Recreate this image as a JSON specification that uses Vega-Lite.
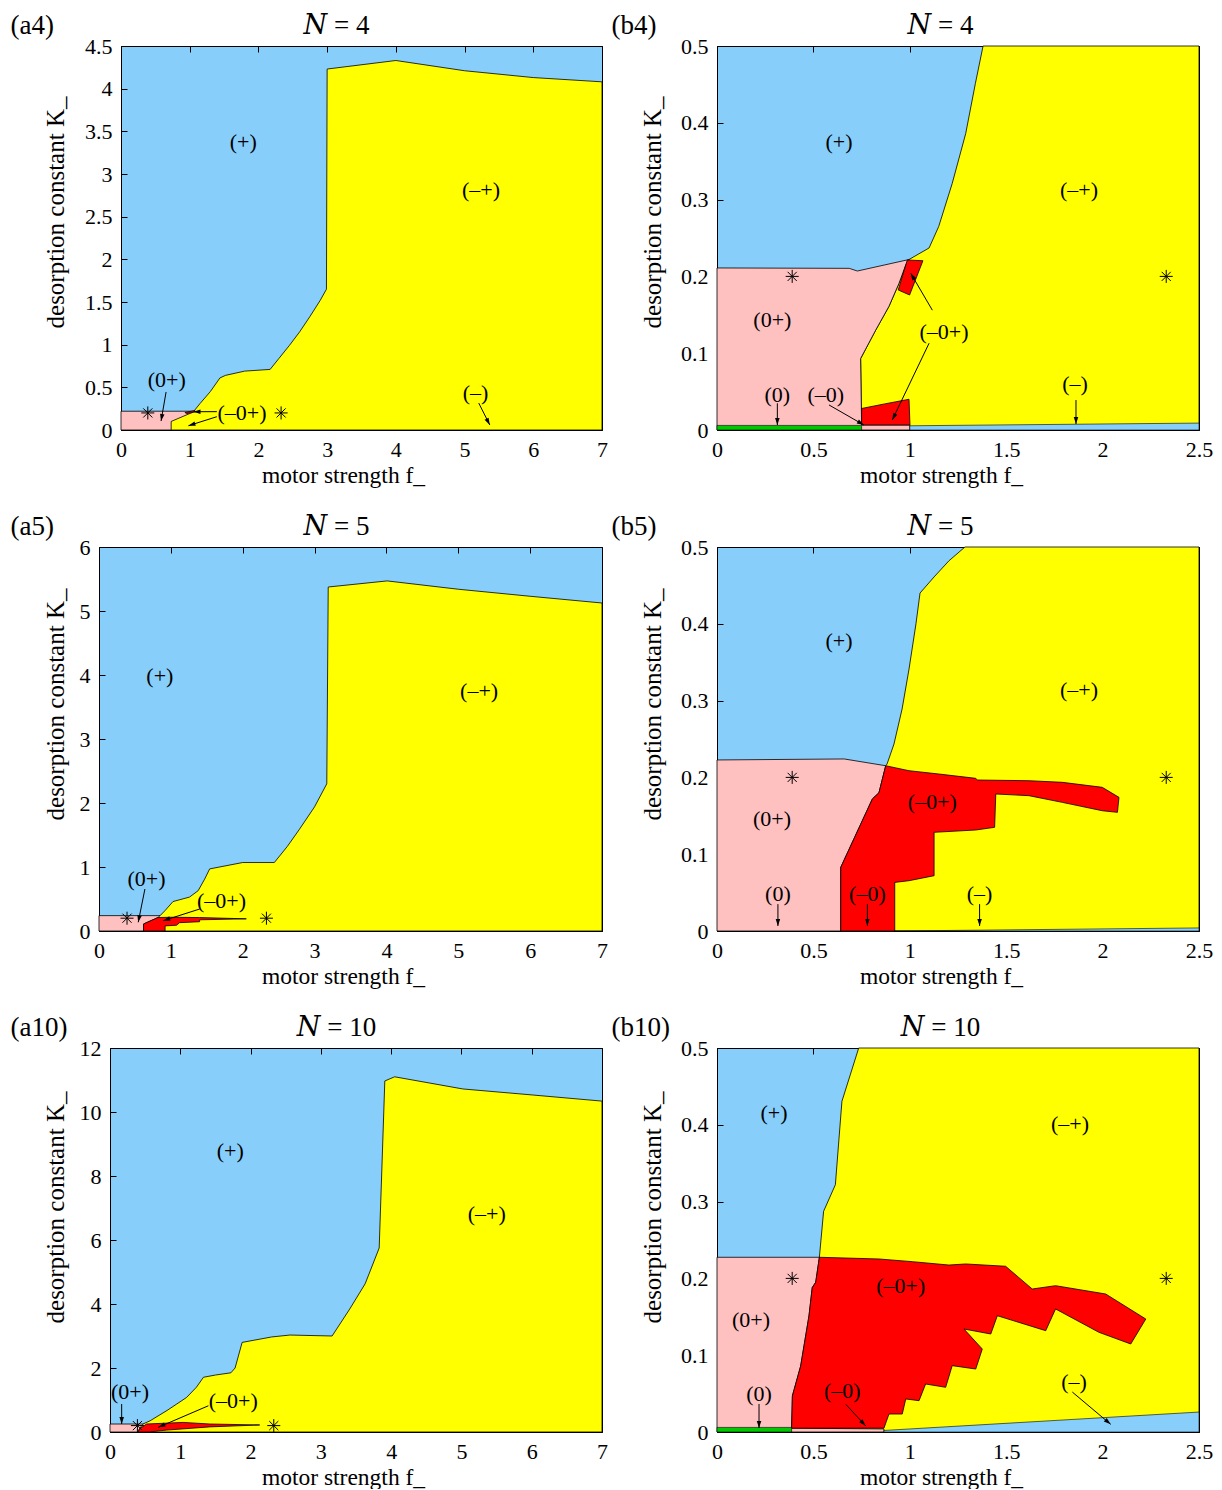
{
"$schema":"https://vega.github.io/schema/vega-lite/v6.json",
"background":"white",
"padding":{"left":0,"top":11,"right":0,"bottom":0},
"datasets":{
"poly":[
{"p":"a4","r":"y","g":"a4y","i":0,"x":0.73,"y":0},{"p":"a4","r":"y","g":"a4y","i":1,"x":0.73,"y":0.1},{"p":"a4","r":"y","g":"a4y","i":2,"x":1.05,"y":0.21},{"p":"a4","r":"y","g":"a4y","i":3,"x":1.15,"y":0.31},{"p":"a4","r":"y","g":"a4y","i":4,"x":1.3,"y":0.45},{"p":"a4","r":"y","g":"a4y","i":5,"x":1.44,"y":0.61},{"p":"a4","r":"y","g":"a4y","i":6,"x":1.52,"y":0.64},{"p":"a4","r":"y","g":"a4y","i":7,"x":1.8,"y":0.69},{"p":"a4","r":"y","g":"a4y","i":8,"x":2.17,"y":0.71},{"p":"a4","r":"y","g":"a4y","i":9,"x":2.3,"y":0.84},{"p":"a4","r":"y","g":"a4y","i":10,"x":2.45,"y":0.99},{"p":"a4","r":"y","g":"a4y","i":11,"x":2.6,"y":1.15},{"p":"a4","r":"y","g":"a4y","i":12,"x":2.75,"y":1.33},{"p":"a4","r":"y","g":"a4y","i":13,"x":2.9,"y":1.52},{"p":"a4","r":"y","g":"a4y","i":14,"x":2.99,"y":1.65},{"p":"a4","r":"y","g":"a4y","i":15,"x":3.0,"y":4.23},{"p":"a4","r":"y","g":"a4y","i":16,"x":4.0,"y":4.33},{"p":"a4","r":"y","g":"a4y","i":17,"x":5.0,"y":4.21},{"p":"a4","r":"y","g":"a4y","i":18,"x":6.0,"y":4.13},{"p":"a4","r":"y","g":"a4y","i":19,"x":7,"y":4.08},{"p":"a4","r":"y","g":"a4y","i":20,"x":7,"y":0},{"p":"a4","r":"y","g":"a4y","i":21,"x":0.73,"y":0},
{"p":"a4","r":"p","g":"a4p","i":0,"x":0,"y":0},{"p":"a4","r":"p","g":"a4p","i":1,"x":0,"y":0.22},{"p":"a4","r":"p","g":"a4p","i":2,"x":1.05,"y":0.22},{"p":"a4","r":"p","g":"a4p","i":3,"x":1.05,"y":0},{"p":"a4","r":"p","g":"a4p","i":4,"x":0,"y":0},
{"p":"a4","r":"r","g":"a4r","i":0,"x":0.93,"y":0.205},{"p":"a4","r":"r","g":"a4r","i":1,"x":1.07,"y":0.228},{"p":"a4","r":"r","g":"a4r","i":2,"x":1.09,"y":0.215},{"p":"a4","r":"r","g":"a4r","i":3,"x":0.96,"y":0.192},{"p":"a4","r":"r","g":"a4r","i":4,"x":0.93,"y":0.205},

{"p":"b4","r":"y","g":"b4y","i":0,"x":0.75,"y":0},{"p":"b4","r":"y","g":"b4y","i":1,"x":0.745,"y":0.093},{"p":"b4","r":"y","g":"b4y","i":2,"x":0.823,"y":0.13},{"p":"b4","r":"y","g":"b4y","i":3,"x":0.892,"y":0.161},{"p":"b4","r":"y","g":"b4y","i":4,"x":0.944,"y":0.191},{"p":"b4","r":"y","g":"b4y","i":5,"x":0.979,"y":0.215},{"p":"b4","r":"y","g":"b4y","i":6,"x":0.996,"y":0.222},{"p":"b4","r":"y","g":"b4y","i":7,"x":1.1,"y":0.237},{"p":"b4","r":"y","g":"b4y","i":8,"x":1.15,"y":0.265},{"p":"b4","r":"y","g":"b4y","i":9,"x":1.22,"y":0.321},{"p":"b4","r":"y","g":"b4y","i":10,"x":1.29,"y":0.386},{"p":"b4","r":"y","g":"b4y","i":11,"x":1.34,"y":0.451},{"p":"b4","r":"y","g":"b4y","i":12,"x":1.38,"y":0.5},{"p":"b4","r":"y","g":"b4y","i":13,"x":2.5,"y":0.5},{"p":"b4","r":"y","g":"b4y","i":14,"x":2.5,"y":0},{"p":"b4","r":"y","g":"b4y","i":15,"x":0.75,"y":0},
{"p":"b4","r":"p","g":"b4p","i":0,"x":0,"y":0},{"p":"b4","r":"p","g":"b4p","i":1,"x":0,"y":0.211},{"p":"b4","r":"p","g":"b4p","i":2,"x":0.686,"y":0.2105},{"p":"b4","r":"p","g":"b4p","i":3,"x":0.728,"y":0.207},{"p":"b4","r":"p","g":"b4p","i":4,"x":0.996,"y":0.222},{"p":"b4","r":"p","g":"b4p","i":5,"x":0.979,"y":0.215},{"p":"b4","r":"p","g":"b4p","i":6,"x":0.944,"y":0.191},{"p":"b4","r":"p","g":"b4p","i":7,"x":0.892,"y":0.161},{"p":"b4","r":"p","g":"b4p","i":8,"x":0.823,"y":0.13},{"p":"b4","r":"p","g":"b4p","i":9,"x":0.745,"y":0.093},{"p":"b4","r":"p","g":"b4p","i":10,"x":0.75,"y":0.0065},{"p":"b4","r":"p","g":"b4p","i":11,"x":1.0,"y":0.0065},{"p":"b4","r":"p","g":"b4p","i":12,"x":1.0,"y":0},{"p":"b4","r":"p","g":"b4p","i":13,"x":0,"y":0},
{"p":"b4","r":"r","g":"b4r1","i":0,"x":0.987,"y":0.2214},{"p":"b4","r":"r","g":"b4r1","i":1,"x":1.068,"y":0.2204},{"p":"b4","r":"r","g":"b4r1","i":2,"x":0.999,"y":0.1758},{"p":"b4","r":"r","g":"b4r1","i":3,"x":0.94,"y":0.1823},{"p":"b4","r":"r","g":"b4r1","i":4,"x":0.987,"y":0.2214},
{"p":"b4","r":"r","g":"b4r2","i":0,"x":0.75,"y":0.028},{"p":"b4","r":"r","g":"b4r2","i":1,"x":0.87,"y":0.034},{"p":"b4","r":"r","g":"b4r2","i":2,"x":0.996,"y":0.04},{"p":"b4","r":"r","g":"b4r2","i":3,"x":1.001,"y":0.0065},{"p":"b4","r":"r","g":"b4r2","i":4,"x":0.75,"y":0.0065},{"p":"b4","r":"r","g":"b4r2","i":5,"x":0.75,"y":0.028},
{"p":"b4","r":"g","g":"b4g","i":0,"x":0,"y":0},{"p":"b4","r":"g","g":"b4g","i":1,"x":0,"y":0.006},{"p":"b4","r":"g","g":"b4g","i":2,"x":0.75,"y":0.006},{"p":"b4","r":"g","g":"b4g","i":3,"x":0.75,"y":0},{"p":"b4","r":"g","g":"b4g","i":4,"x":0,"y":0},
{"p":"b4","r":"b","g":"b4b","i":0,"x":1.0,"y":0},{"p":"b4","r":"b","g":"b4b","i":1,"x":1.0,"y":0.0055},{"p":"b4","r":"b","g":"b4b","i":2,"x":2.5,"y":0.009},{"p":"b4","r":"b","g":"b4b","i":3,"x":2.5,"y":0},{"p":"b4","r":"b","g":"b4b","i":4,"x":1.0,"y":0},

{"p":"a5","r":"y","g":"a5y","i":0,"x":0.62,"y":0},{"p":"a5","r":"y","g":"a5y","i":1,"x":0.62,"y":0.11},{"p":"a5","r":"y","g":"a5y","i":2,"x":0.82,"y":0.21},{"p":"a5","r":"y","g":"a5y","i":3,"x":0.85,"y":0.24},{"p":"a5","r":"y","g":"a5y","i":4,"x":0.92,"y":0.32},{"p":"a5","r":"y","g":"a5y","i":5,"x":1.03,"y":0.46},{"p":"a5","r":"y","g":"a5y","i":6,"x":1.26,"y":0.53},{"p":"a5","r":"y","g":"a5y","i":7,"x":1.38,"y":0.63},{"p":"a5","r":"y","g":"a5y","i":8,"x":1.47,"y":0.81},{"p":"a5","r":"y","g":"a5y","i":9,"x":1.54,"y":0.97},{"p":"a5","r":"y","g":"a5y","i":10,"x":2.0,"y":1.07},{"p":"a5","r":"y","g":"a5y","i":11,"x":2.44,"y":1.07},{"p":"a5","r":"y","g":"a5y","i":12,"x":2.62,"y":1.32},{"p":"a5","r":"y","g":"a5y","i":13,"x":2.79,"y":1.59},{"p":"a5","r":"y","g":"a5y","i":14,"x":3.0,"y":1.94},{"p":"a5","r":"y","g":"a5y","i":15,"x":3.17,"y":2.3},{"p":"a5","r":"y","g":"a5y","i":16,"x":3.19,"y":5.375},{"p":"a5","r":"y","g":"a5y","i":17,"x":4.01,"y":5.47},{"p":"a5","r":"y","g":"a5y","i":18,"x":5.0,"y":5.34},{"p":"a5","r":"y","g":"a5y","i":19,"x":6.0,"y":5.23},{"p":"a5","r":"y","g":"a5y","i":20,"x":7,"y":5.125},{"p":"a5","r":"y","g":"a5y","i":21,"x":7,"y":0},{"p":"a5","r":"y","g":"a5y","i":22,"x":0.62,"y":0},
{"p":"a5","r":"p","g":"a5p","i":0,"x":0,"y":0},{"p":"a5","r":"p","g":"a5p","i":1,"x":0,"y":0.24},{"p":"a5","r":"p","g":"a5p","i":2,"x":0.86,"y":0.24},{"p":"a5","r":"p","g":"a5p","i":3,"x":0.86,"y":0},{"p":"a5","r":"p","g":"a5p","i":4,"x":0,"y":0},
{"p":"a5","r":"r","g":"a5r","i":0,"x":0.62,"y":0},{"p":"a5","r":"r","g":"a5r","i":1,"x":0.62,"y":0.11},{"p":"a5","r":"r","g":"a5r","i":2,"x":0.82,"y":0.21},{"p":"a5","r":"r","g":"a5r","i":3,"x":1.0,"y":0.215},{"p":"a5","r":"r","g":"a5r","i":4,"x":1.4,"y":0.21},{"p":"a5","r":"r","g":"a5r","i":5,"x":2.05,"y":0.19},{"p":"a5","r":"r","g":"a5r","i":6,"x":1.4,"y":0.175},{"p":"a5","r":"r","g":"a5r","i":7,"x":1.4,"y":0.145},{"p":"a5","r":"r","g":"a5r","i":8,"x":1.12,"y":0.13},{"p":"a5","r":"r","g":"a5r","i":9,"x":1.08,"y":0.09},{"p":"a5","r":"r","g":"a5r","i":10,"x":0.92,"y":0.08},{"p":"a5","r":"r","g":"a5r","i":11,"x":0.92,"y":0},{"p":"a5","r":"r","g":"a5r","i":12,"x":0.62,"y":0},

{"p":"b5","r":"y","g":"b5y","i":0,"x":0.642,"y":0},{"p":"b5","r":"y","g":"b5y","i":1,"x":0.642,"y":0.083},{"p":"b5","r":"y","g":"b5y","i":2,"x":0.806,"y":0.172},{"p":"b5","r":"y","g":"b5y","i":3,"x":0.84,"y":0.18},{"p":"b5","r":"y","g":"b5y","i":4,"x":0.875,"y":0.2152},{"p":"b5","r":"y","g":"b5y","i":5,"x":0.882,"y":0.2174},{"p":"b5","r":"y","g":"b5y","i":6,"x":0.918,"y":0.2435},{"p":"b5","r":"y","g":"b5y","i":7,"x":0.96,"y":0.289},{"p":"b5","r":"y","g":"b5y","i":8,"x":0.996,"y":0.341},{"p":"b5","r":"y","g":"b5y","i":9,"x":1.032,"y":0.4},{"p":"b5","r":"y","g":"b5y","i":10,"x":1.053,"y":0.44},{"p":"b5","r":"y","g":"b5y","i":11,"x":1.126,"y":0.461},{"p":"b5","r":"y","g":"b5y","i":12,"x":1.203,"y":0.482},{"p":"b5","r":"y","g":"b5y","i":13,"x":1.286,"y":0.5},{"p":"b5","r":"y","g":"b5y","i":14,"x":2.5,"y":0.5},{"p":"b5","r":"y","g":"b5y","i":15,"x":2.5,"y":0},{"p":"b5","r":"y","g":"b5y","i":16,"x":0.642,"y":0},
{"p":"b5","r":"p","g":"b5p","i":0,"x":0,"y":0},{"p":"b5","r":"p","g":"b5p","i":1,"x":0,"y":0.2227},{"p":"b5","r":"p","g":"b5p","i":2,"x":0.66,"y":0.224},{"p":"b5","r":"p","g":"b5p","i":3,"x":0.875,"y":0.2152},{"p":"b5","r":"p","g":"b5p","i":4,"x":0.84,"y":0.18},{"p":"b5","r":"p","g":"b5p","i":5,"x":0.806,"y":0.172},{"p":"b5","r":"p","g":"b5p","i":6,"x":0.642,"y":0.083},{"p":"b5","r":"p","g":"b5p","i":7,"x":0.642,"y":0},{"p":"b5","r":"p","g":"b5p","i":8,"x":0,"y":0},
{"p":"b5","r":"r","g":"b5r","i":0,"x":0.875,"y":0.2152},{"p":"b5","r":"r","g":"b5r","i":1,"x":0.996,"y":0.2087},{"p":"b5","r":"r","g":"b5r","i":2,"x":1.151,"y":0.2044},{"p":"b5","r":"r","g":"b5r","i":3,"x":1.342,"y":0.1988},{"p":"b5","r":"r","g":"b5r","i":4,"x":1.35,"y":0.1966},{"p":"b5","r":"r","g":"b5r","i":5,"x":1.618,"y":0.1957},{"p":"b5","r":"r","g":"b5r","i":6,"x":1.791,"y":0.1936},{"p":"b5","r":"r","g":"b5r","i":7,"x":1.998,"y":0.1871},{"p":"b5","r":"r","g":"b5r","i":8,"x":2.085,"y":0.174},{"p":"b5","r":"r","g":"b5r","i":9,"x":2.077,"y":0.1545},{"p":"b5","r":"r","g":"b5r","i":10,"x":1.998,"y":0.1566},{"p":"b5","r":"r","g":"b5r","i":11,"x":1.791,"y":0.1675},{"p":"b5","r":"r","g":"b5r","i":12,"x":1.618,"y":0.1762},{"p":"b5","r":"r","g":"b5r","i":13,"x":1.446,"y":0.1784},{"p":"b5","r":"r","g":"b5r","i":14,"x":1.44,"y":0.135},{"p":"b5","r":"r","g":"b5r","i":15,"x":1.342,"y":0.1315},{"p":"b5","r":"r","g":"b5r","i":16,"x":1.126,"y":0.1285},{"p":"b5","r":"r","g":"b5r","i":17,"x":1.126,"y":0.072},{"p":"b5","r":"r","g":"b5r","i":18,"x":0.996,"y":0.0655},{"p":"b5","r":"r","g":"b5r","i":19,"x":0.922,"y":0.0633},{"p":"b5","r":"r","g":"b5r","i":20,"x":0.922,"y":0},{"p":"b5","r":"r","g":"b5r","i":21,"x":0.642,"y":0},{"p":"b5","r":"r","g":"b5r","i":22,"x":0.642,"y":0.083},{"p":"b5","r":"r","g":"b5r","i":23,"x":0.806,"y":0.172},{"p":"b5","r":"r","g":"b5r","i":24,"x":0.84,"y":0.18},{"p":"b5","r":"r","g":"b5r","i":25,"x":0.875,"y":0.2152},
{"p":"b5","r":"b","g":"b5b","i":0,"x":0.922,"y":0},{"p":"b5","r":"b","g":"b5b","i":1,"x":2.5,"y":0.004},{"p":"b5","r":"b","g":"b5b","i":2,"x":2.5,"y":0},{"p":"b5","r":"b","g":"b5b","i":3,"x":0.922,"y":0},

{"p":"a10","r":"y","g":"a10y","i":0,"x":0.4,"y":0},{"p":"a10","r":"y","g":"a10y","i":1,"x":0.42,"y":0.1},{"p":"a10","r":"y","g":"a10y","i":2,"x":0.47,"y":0.25},{"p":"a10","r":"y","g":"a10y","i":3,"x":0.57,"y":0.35},{"p":"a10","r":"y","g":"a10y","i":4,"x":0.81,"y":0.67},{"p":"a10","r":"y","g":"a10y","i":5,"x":0.95,"y":0.875},{"p":"a10","r":"y","g":"a10y","i":6,"x":1.09,"y":1.08},{"p":"a10","r":"y","g":"a10y","i":7,"x":1.23,"y":1.4},{"p":"a10","r":"y","g":"a10y","i":8,"x":1.33,"y":1.71},{"p":"a10","r":"y","g":"a10y","i":9,"x":1.5,"y":1.78},{"p":"a10","r":"y","g":"a10y","i":10,"x":1.72,"y":1.85},{"p":"a10","r":"y","g":"a10y","i":11,"x":1.78,"y":2.0},{"p":"a10","r":"y","g":"a10y","i":12,"x":1.88,"y":2.8},{"p":"a10","r":"y","g":"a10y","i":13,"x":2.3,"y":2.97},{"p":"a10","r":"y","g":"a10y","i":14,"x":2.56,"y":3.03},{"p":"a10","r":"y","g":"a10y","i":15,"x":3.16,"y":3.0},{"p":"a10","r":"y","g":"a10y","i":16,"x":3.41,"y":3.84},{"p":"a10","r":"y","g":"a10y","i":17,"x":3.63,"y":4.63},{"p":"a10","r":"y","g":"a10y","i":18,"x":3.83,"y":5.75},{"p":"a10","r":"y","g":"a10y","i":19,"x":3.91,"y":10.97},{"p":"a10","r":"y","g":"a10y","i":20,"x":4.05,"y":11.1},{"p":"a10","r":"y","g":"a10y","i":21,"x":5.02,"y":10.72},{"p":"a10","r":"y","g":"a10y","i":22,"x":6.02,"y":10.53},{"p":"a10","r":"y","g":"a10y","i":23,"x":7,"y":10.34},{"p":"a10","r":"y","g":"a10y","i":24,"x":7,"y":0},{"p":"a10","r":"y","g":"a10y","i":25,"x":0.4,"y":0},
{"p":"a10","r":"p","g":"a10p","i":0,"x":0,"y":0},{"p":"a10","r":"p","g":"a10p","i":1,"x":0,"y":0.25},{"p":"a10","r":"p","g":"a10p","i":2,"x":0.5,"y":0.25},{"p":"a10","r":"p","g":"a10p","i":3,"x":0.5,"y":0},{"p":"a10","r":"p","g":"a10p","i":4,"x":0,"y":0},
{"p":"a10","r":"r","g":"a10r","i":0,"x":0.4,"y":0},{"p":"a10","r":"r","g":"a10r","i":1,"x":0.42,"y":0.1},{"p":"a10","r":"r","g":"a10r","i":2,"x":0.52,"y":0.25},{"p":"a10","r":"r","g":"a10r","i":3,"x":1.04,"y":0.3},{"p":"a10","r":"r","g":"a10r","i":4,"x":1.42,"y":0.25},{"p":"a10","r":"r","g":"a10r","i":5,"x":2.13,"y":0.22},{"p":"a10","r":"r","g":"a10r","i":6,"x":1.42,"y":0.16},{"p":"a10","r":"r","g":"a10r","i":7,"x":0.81,"y":0.06},{"p":"a10","r":"r","g":"a10r","i":8,"x":0.55,"y":0},{"p":"a10","r":"r","g":"a10r","i":9,"x":0.4,"y":0},

{"p":"b10","r":"y","g":"b10y","i":0,"x":0.387,"y":0},{"p":"b10","r":"y","g":"b10y","i":1,"x":0.391,"y":0.047},{"p":"b10","r":"y","g":"b10y","i":2,"x":0.434,"y":0.086},{"p":"b10","r":"y","g":"b10y","i":3,"x":0.477,"y":0.151},{"p":"b10","r":"y","g":"b10y","i":4,"x":0.494,"y":0.188},{"p":"b10","r":"y","g":"b10y","i":5,"x":0.512,"y":0.195},{"p":"b10","r":"y","g":"b10y","i":6,"x":0.531,"y":0.2275},{"p":"b10","r":"y","g":"b10y","i":7,"x":0.553,"y":0.2874},{"p":"b10","r":"y","g":"b10y","i":8,"x":0.614,"y":0.322},{"p":"b10","r":"y","g":"b10y","i":9,"x":0.648,"y":0.4306},{"p":"b10","r":"y","g":"b10y","i":10,"x":0.735,"y":0.5},{"p":"b10","r":"y","g":"b10y","i":11,"x":2.5,"y":0.5},{"p":"b10","r":"y","g":"b10y","i":12,"x":2.5,"y":0},{"p":"b10","r":"y","g":"b10y","i":13,"x":0.387,"y":0},
{"p":"b10","r":"p","g":"b10p","i":0,"x":0,"y":0},{"p":"b10","r":"p","g":"b10p","i":1,"x":0,"y":0.2275},{"p":"b10","r":"p","g":"b10p","i":2,"x":0.531,"y":0.2275},{"p":"b10","r":"p","g":"b10p","i":3,"x":0.512,"y":0.195},{"p":"b10","r":"p","g":"b10p","i":4,"x":0.494,"y":0.188},{"p":"b10","r":"p","g":"b10p","i":5,"x":0.477,"y":0.151},{"p":"b10","r":"p","g":"b10p","i":6,"x":0.434,"y":0.086},{"p":"b10","r":"p","g":"b10p","i":7,"x":0.391,"y":0.047},{"p":"b10","r":"p","g":"b10p","i":8,"x":0.387,"y":0.005},{"p":"b10","r":"p","g":"b10p","i":9,"x":0.866,"y":0.004},{"p":"b10","r":"p","g":"b10p","i":10,"x":0.866,"y":0},{"p":"b10","r":"p","g":"b10p","i":11,"x":0,"y":0},
{"p":"b10","r":"r","g":"b10r","i":0,"x":0.531,"y":0.2275},{"p":"b10","r":"r","g":"b10r","i":1,"x":0.84,"y":0.2253},{"p":"b10","r":"r","g":"b10r","i":2,"x":1.013,"y":0.2218},{"p":"b10","r":"r","g":"b10r","i":3,"x":1.203,"y":0.2174},{"p":"b10","r":"r","g":"b10r","i":4,"x":1.29,"y":0.2188},{"p":"b10","r":"r","g":"b10r","i":5,"x":1.497,"y":0.2158},{"p":"b10","r":"r","g":"b10r","i":6,"x":1.635,"y":0.1862},{"p":"b10","r":"r","g":"b10r","i":7,"x":1.756,"y":0.1905},{"p":"b10","r":"r","g":"b10r","i":8,"x":2.016,"y":0.1797},{"p":"b10","r":"r","g":"b10r","i":9,"x":2.224,"y":0.1471},{"p":"b10","r":"r","g":"b10r","i":10,"x":2.146,"y":0.1146},{"p":"b10","r":"r","g":"b10r","i":11,"x":1.981,"y":0.1298},{"p":"b10","r":"r","g":"b10r","i":12,"x":1.756,"y":0.1602},{"p":"b10","r":"r","g":"b10r","i":13,"x":1.705,"y":0.1319},{"p":"b10","r":"r","g":"b10r","i":14,"x":1.454,"y":0.1514},{"p":"b10","r":"r","g":"b10r","i":15,"x":1.42,"y":0.1276},{"p":"b10","r":"r","g":"b10r","i":16,"x":1.281,"y":0.1341},{"p":"b10","r":"r","g":"b10r","i":17,"x":1.376,"y":0.108},{"p":"b10","r":"r","g":"b10r","i":18,"x":1.342,"y":0.082},{"p":"b10","r":"r","g":"b10r","i":19,"x":1.22,"y":0.0864},{"p":"b10","r":"r","g":"b10r","i":20,"x":1.186,"y":0.0582},{"p":"b10","r":"r","g":"b10r","i":21,"x":1.082,"y":0.0625},{"p":"b10","r":"r","g":"b10r","i":22,"x":1.048,"y":0.0408},{"p":"b10","r":"r","g":"b10r","i":23,"x":0.979,"y":0.043},{"p":"b10","r":"r","g":"b10r","i":24,"x":0.961,"y":0.0234},{"p":"b10","r":"r","g":"b10r","i":25,"x":0.892,"y":0.0234},{"p":"b10","r":"r","g":"b10r","i":26,"x":0.866,"y":0.005},{"p":"b10","r":"r","g":"b10r","i":27,"x":0.387,"y":0.005},{"p":"b10","r":"r","g":"b10r","i":28,"x":0.391,"y":0.047},{"p":"b10","r":"r","g":"b10r","i":29,"x":0.434,"y":0.086},{"p":"b10","r":"r","g":"b10r","i":30,"x":0.477,"y":0.151},{"p":"b10","r":"r","g":"b10r","i":31,"x":0.494,"y":0.188},{"p":"b10","r":"r","g":"b10r","i":32,"x":0.512,"y":0.195},{"p":"b10","r":"r","g":"b10r","i":33,"x":0.531,"y":0.2275},
{"p":"b10","r":"g","g":"b10g","i":0,"x":0,"y":0},{"p":"b10","r":"g","g":"b10g","i":1,"x":0,"y":0.006},{"p":"b10","r":"g","g":"b10g","i":2,"x":0.387,"y":0.006},{"p":"b10","r":"g","g":"b10g","i":3,"x":0.387,"y":0},{"p":"b10","r":"g","g":"b10g","i":4,"x":0,"y":0},
{"p":"b10","r":"b","g":"b10b","i":0,"x":0.866,"y":0},{"p":"b10","r":"b","g":"b10b","i":1,"x":0.866,"y":0.002},{"p":"b10","r":"b","g":"b10b","i":2,"x":2.5,"y":0.026},{"p":"b10","r":"b","g":"b10b","i":3,"x":2.5,"y":0},{"p":"b10","r":"b","g":"b10b","i":4,"x":0.866,"y":0}
],
"lab":[
{"p":"a4","x":1.78,"y":3.38,"t":"(+)"},{"p":"a4","x":5.24,"y":2.81,"t":"(–+)"},{"p":"a4","x":0.666,"y":0.586,"t":"(0+)"},{"p":"a4","x":1.76,"y":0.2,"t":"(–0+)"},{"p":"a4","x":5.16,"y":0.43,"t":"(–)"},
{"p":"b4","x":0.633,"y":0.375,"t":"(+)"},{"p":"b4","x":1.878,"y":0.3125,"t":"(–+)"},{"p":"b4","x":0.287,"y":0.143,"t":"(0+)"},{"p":"b4","x":1.177,"y":0.128,"t":"(–0+)"},{"p":"b4","x":0.313,"y":0.0456,"t":"(0)"},{"p":"b4","x":0.564,"y":0.0456,"t":"(–0)"},{"p":"b4","x":1.857,"y":0.06,"t":"(–)"},
{"p":"a5","x":0.847,"y":3.98,"t":"(+)"},{"p":"a5","x":5.29,"y":3.75,"t":"(–+)"},{"p":"a5","x":0.662,"y":0.81,"t":"(0+)"},{"p":"a5","x":1.704,"y":0.474,"t":"(–0+)"},
{"p":"b5","x":0.633,"y":0.378,"t":"(+)"},{"p":"b5","x":1.878,"y":0.314,"t":"(–+)"},{"p":"b5","x":0.285,"y":0.146,"t":"(0+)"},{"p":"b5","x":1.117,"y":0.1676,"t":"(–0+)"},{"p":"b5","x":0.316,"y":0.048,"t":"(0)"},{"p":"b5","x":0.78,"y":0.048,"t":"(–0)"},{"p":"b5","x":1.362,"y":0.048,"t":"(–)"},
{"p":"a10","x":1.71,"y":8.78,"t":"(+)"},{"p":"a10","x":5.36,"y":6.81,"t":"(–+)"},{"p":"a10","x":0.284,"y":1.24,"t":"(0+)"},{"p":"a10","x":1.754,"y":0.98,"t":"(–0+)"},
{"p":"b10","x":0.296,"y":0.415,"t":"(+)"},{"p":"b10","x":1.831,"y":0.401,"t":"(–+)"},{"p":"b10","x":0.176,"y":0.146,"t":"(0+)"},{"p":"b10","x":0.953,"y":0.1905,"t":"(–0+)"},{"p":"b10","x":0.218,"y":0.049,"t":"(0)"},{"p":"b10","x":0.65,"y":0.0538,"t":"(–0)"},{"p":"b10","x":1.852,"y":0.0647,"t":"(–)"}
],
"arr":[
{"p":"a4","x":0.583,"y":0.105,"x2":0.656,"y2":0.445,"a":190},{"p":"a4","x":1.054,"y":0.214,"x2":1.395,"y2":0.215,"a":270},{"p":"a4","x":0.981,"y":0.05,"x2":1.395,"y2":0.156,"a":252},{"p":"a4","x":5.367,"y":0.059,"x2":5.206,"y2":0.316,"a":153},
{"p":"b4","x":0.313,"y":0.0065,"x2":0.313,"y2":0.0348,"a":180},{"p":"b4","x":0.762,"y":0.0065,"x2":0.581,"y2":0.0326,"a":120},{"p":"b4","x":1.005,"y":0.204,"x2":1.117,"y2":0.156,"a":330},{"p":"b4","x":0.909,"y":0.013,"x2":1.1,"y2":0.113,"a":206},{"p":"b4","x":1.862,"y":0.0078,"x2":1.862,"y2":0.039,"a":180},
{"p":"a5","x":0.546,"y":0.136,"x2":0.639,"y2":0.656,"a":191},{"p":"a5","x":0.893,"y":0.161,"x2":1.403,"y2":0.344,"a":252},
{"p":"b5","x":0.316,"y":0.0065,"x2":0.316,"y2":0.035,"a":180},{"p":"b5","x":0.78,"y":0.0065,"x2":0.78,"y2":0.035,"a":180},{"p":"b5","x":1.362,"y":0.0065,"x2":1.362,"y2":0.035,"a":180},
{"p":"a10","x":0.166,"y":0.25,"x2":0.166,"y2":0.875,"a":180},{"p":"a10","x":0.687,"y":0.147,"x2":1.4,"y2":0.82,"a":247},
{"p":"b10","x":0.218,"y":0.0052,"x2":0.218,"y2":0.0365,"a":180},{"p":"b10","x":0.771,"y":0.008,"x2":0.668,"y2":0.036,"a":137},{"p":"b10","x":2.042,"y":0.01,"x2":1.843,"y2":0.052,"a":130}
],
"star":[{"x":0.39,"y":0.2},{"x":2.33,"y":0.2}],
"blank":[{"x":0}]
},
"spacing":25,
"vconcat":[
{"spacing":3,"hconcat":[
{"width":1,"height":384,"data":{"name":"blank"},"mark":{"type":"point","opacity":0},"view":{"fill":null,"stroke":null}},
{"width":481,"height":384,
"encoding":{
"x":{"field":"x","type":"quantitative","scale":{"domain":[0,7],"nice":false,"zero":false},"axis":{"orient":"bottom","values":[0,1,2,3,4,5,6,7],"format":"~g","title":"motor strength f_","titleX":222,"titleY":52,"titleBaseline":"alphabetic","titleAlign":"center"}},
"y":{"field":"y","type":"quantitative","scale":{"domain":[0,4.5],"nice":false,"zero":false},"axis":{"orient":"left","values":[0,0.5,1,1.5,2,2.5,3,3.5,4,4.5],"format":"~g","title":"desorption constant K_","titleX":-58,"titleY":166,"titleAngle":270,"titleBaseline":"alphabetic","titleAlign":"center","titleFontSize":25}}},
"layer":[
{"layer":[
{"data":{"name":"poly"},"transform":[{"filter":"datum.p=='a4' && datum.r=='p'"}],"mark":{"type":"line","fill":"#ffc0c0","stroke":"#000","strokeWidth":0.8},"encoding":{"detail":{"field":"g"},"order":{"field":"i"}}},
{"data":{"name":"poly"},"transform":[{"filter":"datum.p=='a4' && datum.r=='y'"}],"mark":{"type":"line","fill":"#ffff00","stroke":"#000","strokeWidth":0.8},"encoding":{"detail":{"field":"g"},"order":{"field":"i"}}},
{"data":{"name":"poly"},"transform":[{"filter":"datum.p=='a4' && datum.r=='r'"}],"mark":{"type":"line","fill":"#ff0000","stroke":"#000","strokeWidth":0.8},"encoding":{"detail":{"field":"g"},"order":{"field":"i"}}},
{"data":{"name":"arr"},"transform":[{"filter":"datum.p=='a4'"}],"mark":{"type":"rule","stroke":"#000","strokeWidth":1},"encoding":{"x2":{"field":"x2"},"y2":{"field":"y2"}}},
{"data":{"name":"arr"},"transform":[{"filter":"datum.p=='a4'"}],"mark":{"type":"point","shape":"M0,0L-0.32,1L0.32,1Z","filled":true,"color":"#000","size":200,"opacity":1},"encoding":{"angle":{"field":"a","type":"quantitative","scale":null}}},
{"data":{"name":"lab"},"transform":[{"filter":"datum.p=='a4'"}],"mark":{"type":"text","fontSize":22,"baseline":"middle","color":"#000"},"encoding":{"text":{"field":"t"}}}
]},
{"data":{"name":"star"},"mark":{"type":"point","shape":"M-1,0H1M0,-1V1M-0.7,-0.7L0.7,0.7M-0.7,0.7L0.7,-0.7","size":170,"stroke":"#000","strokeWidth":1,"filled":false,"opacity":1},
"encoding":{
"x":{"field":"x","type":"quantitative","scale":{"domain":[0,7],"nice":false,"zero":false},"axis":{"orient":"top","values":[0,1,2,3,4,5,6,7],"labels":false,"title":"𝑁 = 4","titleFont":"Liberation Serif, DejaVu Serif","titleX":215,"titleY":-13,"titleBaseline":"alphabetic","titleAlign":"center","titleFontSize":27}},
"y":{"field":"y","type":"quantitative","scale":{"domain":[0,4.5],"nice":false,"zero":false},"axis":{"orient":"right","values":[0,0.5,1,1.5,2,2.5,3,3.5,4,4.5],"labels":false,"title":"(a4)","titleX":-592,"titleY":-13,"titleAngle":0,"titleAlign":"left","titleBaseline":"alphabetic","titleFontSize":27}}}}
],
"resolve":{"axis":{"x":"independent","y":"independent"}}},

{"width":482,"height":384,
"encoding":{
"x":{"field":"x","type":"quantitative","scale":{"domain":[0,2.5],"nice":false,"zero":false},"axis":{"orient":"bottom","values":[0,0.5,1,1.5,2,2.5],"format":"~g","title":"motor strength f_","titleX":224,"titleY":52,"titleBaseline":"alphabetic","titleAlign":"center"}},
"y":{"field":"y","type":"quantitative","scale":{"domain":[0,0.5],"nice":false,"zero":false},"axis":{"orient":"left","values":[0,0.1,0.2,0.3,0.4,0.5],"format":"~g","title":"desorption constant K_","titleX":-57,"titleY":166,"titleAngle":270,"titleBaseline":"alphabetic","titleAlign":"center","titleFontSize":25}}},
"layer":[
{"layer":[
{"data":{"name":"poly"},"transform":[{"filter":"datum.p=='b4' && datum.r=='y'"}],"mark":{"type":"line","fill":"#ffff00","stroke":"#000","strokeWidth":0.8},"encoding":{"detail":{"field":"g"},"order":{"field":"i"}}},
{"data":{"name":"poly"},"transform":[{"filter":"datum.p=='b4' && datum.r=='p'"}],"mark":{"type":"line","fill":"#ffc0c0","stroke":"#000","strokeWidth":0.8},"encoding":{"detail":{"field":"g"},"order":{"field":"i"}}},
{"data":{"name":"poly"},"transform":[{"filter":"datum.p=='b4' && datum.r=='r'"}],"mark":{"type":"line","fill":"#ff0000","stroke":"#000","strokeWidth":0.8},"encoding":{"detail":{"field":"g"},"order":{"field":"i"}}},
{"data":{"name":"poly"},"transform":[{"filter":"datum.p=='b4' && datum.r=='g'"}],"mark":{"type":"line","fill":"#00c800","stroke":"#000","strokeWidth":0.6},"encoding":{"detail":{"field":"g"},"order":{"field":"i"}}},
{"data":{"name":"poly"},"transform":[{"filter":"datum.p=='b4' && datum.r=='b'"}],"mark":{"type":"line","fill":"#87cefa","stroke":"#000","strokeWidth":0.6},"encoding":{"detail":{"field":"g"},"order":{"field":"i"}}},
{"data":{"name":"arr"},"transform":[{"filter":"datum.p=='b4'"}],"mark":{"type":"rule","stroke":"#000","strokeWidth":1},"encoding":{"x2":{"field":"x2"},"y2":{"field":"y2"}}},
{"data":{"name":"arr"},"transform":[{"filter":"datum.p=='b4'"}],"mark":{"type":"point","shape":"M0,0L-0.32,1L0.32,1Z","filled":true,"color":"#000","size":200,"opacity":1},"encoding":{"angle":{"field":"a","type":"quantitative","scale":null}}},
{"data":{"name":"lab"},"transform":[{"filter":"datum.p=='b4'"}],"mark":{"type":"text","fontSize":22,"baseline":"middle","color":"#000"},"encoding":{"text":{"field":"t"}}}
]},
{"data":{"name":"star"},"mark":{"type":"point","shape":"M-1,0H1M0,-1V1M-0.7,-0.7L0.7,0.7M-0.7,0.7L0.7,-0.7","size":170,"stroke":"#000","strokeWidth":1,"filled":false,"opacity":1},
"encoding":{
"x":{"field":"x","type":"quantitative","scale":{"domain":[0,2.5],"nice":false,"zero":false},"axis":{"orient":"top","values":[0,0.5,1,1.5,2,2.5],"labels":false,"title":"𝑁 = 4","titleFont":"Liberation Serif, DejaVu Serif","titleX":223,"titleY":-13,"titleBaseline":"alphabetic","titleAlign":"center","titleFontSize":27}},
"y":{"field":"y","type":"quantitative","scale":{"domain":[0,0.5],"nice":false,"zero":false},"axis":{"orient":"right","values":[0,0.1,0.2,0.3,0.4,0.5],"labels":false,"title":"(b4)","titleX":-588,"titleY":-13,"titleAngle":0,"titleAlign":"left","titleBaseline":"alphabetic","titleFontSize":27}}}}
],
"resolve":{"axis":{"x":"independent","y":"independent"}}}
]},

{"spacing":3,"hconcat":[
{"width":1,"height":384,"data":{"name":"blank"},"mark":{"type":"point","opacity":0},"view":{"fill":null,"stroke":null}},
{"width":503,"height":384,
"encoding":{
"x":{"field":"x","type":"quantitative","scale":{"domain":[0,7],"nice":false,"zero":false},"axis":{"orient":"bottom","values":[0,1,2,3,4,5,6,7],"format":"~g","title":"motor strength f_","titleX":244,"titleY":52,"titleBaseline":"alphabetic","titleAlign":"center"}},
"y":{"field":"y","type":"quantitative","scale":{"domain":[0,6],"nice":false,"zero":false},"axis":{"orient":"left","values":[0,1,2,3,4,5,6],"format":"~g","title":"desorption constant K_","titleX":-36,"titleY":157,"titleAngle":270,"titleBaseline":"alphabetic","titleAlign":"center","titleFontSize":25}}},
"layer":[
{"layer":[
{"data":{"name":"poly"},"transform":[{"filter":"datum.p=='a5' && datum.r=='p'"}],"mark":{"type":"line","fill":"#ffc0c0","stroke":"#000","strokeWidth":0.8},"encoding":{"detail":{"field":"g"},"order":{"field":"i"}}},
{"data":{"name":"poly"},"transform":[{"filter":"datum.p=='a5' && datum.r=='y'"}],"mark":{"type":"line","fill":"#ffff00","stroke":"#000","strokeWidth":0.8},"encoding":{"detail":{"field":"g"},"order":{"field":"i"}}},
{"data":{"name":"poly"},"transform":[{"filter":"datum.p=='a5' && datum.r=='r'"}],"mark":{"type":"line","fill":"#ff0000","stroke":"#000","strokeWidth":0.8},"encoding":{"detail":{"field":"g"},"order":{"field":"i"}}},
{"data":{"name":"arr"},"transform":[{"filter":"datum.p=='a5'"}],"mark":{"type":"rule","stroke":"#000","strokeWidth":1},"encoding":{"x2":{"field":"x2"},"y2":{"field":"y2"}}},
{"data":{"name":"arr"},"transform":[{"filter":"datum.p=='a5'"}],"mark":{"type":"point","shape":"M0,0L-0.32,1L0.32,1Z","filled":true,"color":"#000","size":200,"opacity":1},"encoding":{"angle":{"field":"a","type":"quantitative","scale":null}}},
{"data":{"name":"lab"},"transform":[{"filter":"datum.p=='a5'"}],"mark":{"type":"text","fontSize":22,"baseline":"middle","color":"#000"},"encoding":{"text":{"field":"t"}}}
]},
{"data":{"name":"star"},"mark":{"type":"point","shape":"M-1,0H1M0,-1V1M-0.7,-0.7L0.7,0.7M-0.7,0.7L0.7,-0.7","size":170,"stroke":"#000","strokeWidth":1,"filled":false,"opacity":1},
"encoding":{
"x":{"field":"x","type":"quantitative","scale":{"domain":[0,7],"nice":false,"zero":false},"axis":{"orient":"top","values":[0,1,2,3,4,5,6,7],"labels":false,"title":"𝑁 = 5","titleFont":"Liberation Serif, DejaVu Serif","titleX":237,"titleY":-13,"titleBaseline":"alphabetic","titleAlign":"center","titleFontSize":27}},
"y":{"field":"y","type":"quantitative","scale":{"domain":[0,6],"nice":false,"zero":false},"axis":{"orient":"right","values":[0,1,2,3,4,5,6],"labels":false,"title":"(a5)","titleX":-592,"titleY":-13,"titleAngle":0,"titleAlign":"left","titleBaseline":"alphabetic","titleFontSize":27}}}}
],
"resolve":{"axis":{"x":"independent","y":"independent"}}},

{"width":482,"height":384,
"encoding":{
"x":{"field":"x","type":"quantitative","scale":{"domain":[0,2.5],"nice":false,"zero":false},"axis":{"orient":"bottom","values":[0,0.5,1,1.5,2,2.5],"format":"~g","title":"motor strength f_","titleX":224,"titleY":52,"titleBaseline":"alphabetic","titleAlign":"center"}},
"y":{"field":"y","type":"quantitative","scale":{"domain":[0,0.5],"nice":false,"zero":false},"axis":{"orient":"left","values":[0,0.1,0.2,0.3,0.4,0.5],"format":"~g","title":"desorption constant K_","titleX":-57,"titleY":157,"titleAngle":270,"titleBaseline":"alphabetic","titleAlign":"center","titleFontSize":25}}},
"layer":[
{"layer":[
{"data":{"name":"poly"},"transform":[{"filter":"datum.p=='b5' && datum.r=='y'"}],"mark":{"type":"line","fill":"#ffff00","stroke":"#000","strokeWidth":0.8},"encoding":{"detail":{"field":"g"},"order":{"field":"i"}}},
{"data":{"name":"poly"},"transform":[{"filter":"datum.p=='b5' && datum.r=='p'"}],"mark":{"type":"line","fill":"#ffc0c0","stroke":"#000","strokeWidth":0.8},"encoding":{"detail":{"field":"g"},"order":{"field":"i"}}},
{"data":{"name":"poly"},"transform":[{"filter":"datum.p=='b5' && datum.r=='r'"}],"mark":{"type":"line","fill":"#ff0000","stroke":"#000","strokeWidth":0.8},"encoding":{"detail":{"field":"g"},"order":{"field":"i"}}},
{"data":{"name":"poly"},"transform":[{"filter":"datum.p=='b5' && datum.r=='b'"}],"mark":{"type":"line","fill":"#87cefa","stroke":"#000","strokeWidth":0.6},"encoding":{"detail":{"field":"g"},"order":{"field":"i"}}},
{"data":{"name":"arr"},"transform":[{"filter":"datum.p=='b5'"}],"mark":{"type":"rule","stroke":"#000","strokeWidth":1},"encoding":{"x2":{"field":"x2"},"y2":{"field":"y2"}}},
{"data":{"name":"arr"},"transform":[{"filter":"datum.p=='b5'"}],"mark":{"type":"point","shape":"M0,0L-0.32,1L0.32,1Z","filled":true,"color":"#000","size":200,"opacity":1},"encoding":{"angle":{"field":"a","type":"quantitative","scale":null}}},
{"data":{"name":"lab"},"transform":[{"filter":"datum.p=='b5'"}],"mark":{"type":"text","fontSize":22,"baseline":"middle","color":"#000"},"encoding":{"text":{"field":"t"}}}
]},
{"data":{"name":"star"},"mark":{"type":"point","shape":"M-1,0H1M0,-1V1M-0.7,-0.7L0.7,0.7M-0.7,0.7L0.7,-0.7","size":170,"stroke":"#000","strokeWidth":1,"filled":false,"opacity":1},
"encoding":{
"x":{"field":"x","type":"quantitative","scale":{"domain":[0,2.5],"nice":false,"zero":false},"axis":{"orient":"top","values":[0,0.5,1,1.5,2,2.5],"labels":false,"title":"𝑁 = 5","titleFont":"Liberation Serif, DejaVu Serif","titleX":223,"titleY":-13,"titleBaseline":"alphabetic","titleAlign":"center","titleFontSize":27}},
"y":{"field":"y","type":"quantitative","scale":{"domain":[0,0.5],"nice":false,"zero":false},"axis":{"orient":"right","values":[0,0.1,0.2,0.3,0.4,0.5],"labels":false,"title":"(b5)","titleX":-588,"titleY":-13,"titleAngle":0,"titleAlign":"left","titleBaseline":"alphabetic","titleFontSize":27}}}}
],
"resolve":{"axis":{"x":"independent","y":"independent"}}}
]},

{"spacing":3,"hconcat":[
{"width":1,"height":384,"data":{"name":"blank"},"mark":{"type":"point","opacity":0},"view":{"fill":null,"stroke":null}},
{"width":492,"height":384,
"encoding":{
"x":{"field":"x","type":"quantitative","scale":{"domain":[0,7],"nice":false,"zero":false},"axis":{"orient":"bottom","values":[0,1,2,3,4,5,6,7],"format":"~g","title":"motor strength f_","titleX":233,"titleY":52,"titleBaseline":"alphabetic","titleAlign":"center"}},
"y":{"field":"y","type":"quantitative","scale":{"domain":[0,12],"nice":false,"zero":false},"axis":{"orient":"left","values":[0,2,4,6,8,10,12],"format":"~g","title":"desorption constant K_","titleX":-47,"titleY":159,"titleAngle":270,"titleBaseline":"alphabetic","titleAlign":"center","titleFontSize":25}}},
"layer":[
{"layer":[
{"data":{"name":"poly"},"transform":[{"filter":"datum.p=='a10' && datum.r=='p'"}],"mark":{"type":"line","fill":"#ffc0c0","stroke":"#000","strokeWidth":0.8},"encoding":{"detail":{"field":"g"},"order":{"field":"i"}}},
{"data":{"name":"poly"},"transform":[{"filter":"datum.p=='a10' && datum.r=='y'"}],"mark":{"type":"line","fill":"#ffff00","stroke":"#000","strokeWidth":0.8},"encoding":{"detail":{"field":"g"},"order":{"field":"i"}}},
{"data":{"name":"poly"},"transform":[{"filter":"datum.p=='a10' && datum.r=='r'"}],"mark":{"type":"line","fill":"#ff0000","stroke":"#000","strokeWidth":0.8},"encoding":{"detail":{"field":"g"},"order":{"field":"i"}}},
{"data":{"name":"arr"},"transform":[{"filter":"datum.p=='a10'"}],"mark":{"type":"rule","stroke":"#000","strokeWidth":1},"encoding":{"x2":{"field":"x2"},"y2":{"field":"y2"}}},
{"data":{"name":"arr"},"transform":[{"filter":"datum.p=='a10'"}],"mark":{"type":"point","shape":"M0,0L-0.32,1L0.32,1Z","filled":true,"color":"#000","size":200,"opacity":1},"encoding":{"angle":{"field":"a","type":"quantitative","scale":null}}},
{"data":{"name":"lab"},"transform":[{"filter":"datum.p=='a10'"}],"mark":{"type":"text","fontSize":22,"baseline":"middle","color":"#000"},"encoding":{"text":{"field":"t"}}}
]},
{"data":{"name":"star"},"mark":{"type":"point","shape":"M-1,0H1M0,-1V1M-0.7,-0.7L0.7,0.7M-0.7,0.7L0.7,-0.7","size":170,"stroke":"#000","strokeWidth":1,"filled":false,"opacity":1},
"encoding":{
"x":{"field":"x","type":"quantitative","scale":{"domain":[0,7],"nice":false,"zero":false},"axis":{"orient":"top","values":[0,1,2,3,4,5,6,7],"labels":false,"title":"𝑁 = 10","titleFont":"Liberation Serif, DejaVu Serif","titleX":226,"titleY":-13,"titleBaseline":"alphabetic","titleAlign":"center","titleFontSize":27}},
"y":{"field":"y","type":"quantitative","scale":{"domain":[0,12],"nice":false,"zero":false},"axis":{"orient":"right","values":[0,2,4,6,8,10,12],"labels":false,"title":"(a10)","titleX":-592,"titleY":-13,"titleAngle":0,"titleAlign":"left","titleBaseline":"alphabetic","titleFontSize":27}}}}
],
"resolve":{"axis":{"x":"independent","y":"independent"}}},

{"width":482,"height":384,
"encoding":{
"x":{"field":"x","type":"quantitative","scale":{"domain":[0,2.5],"nice":false,"zero":false},"axis":{"orient":"bottom","values":[0,0.5,1,1.5,2,2.5],"format":"~g","title":"motor strength f_","titleX":224,"titleY":52,"titleBaseline":"alphabetic","titleAlign":"center"}},
"y":{"field":"y","type":"quantitative","scale":{"domain":[0,0.5],"nice":false,"zero":false},"axis":{"orient":"left","values":[0,0.1,0.2,0.3,0.4,0.5],"format":"~g","title":"desorption constant K_","titleX":-57,"titleY":159,"titleAngle":270,"titleBaseline":"alphabetic","titleAlign":"center","titleFontSize":25}}},
"layer":[
{"layer":[
{"data":{"name":"poly"},"transform":[{"filter":"datum.p=='b10' && datum.r=='y'"}],"mark":{"type":"line","fill":"#ffff00","stroke":"#000","strokeWidth":0.8},"encoding":{"detail":{"field":"g"},"order":{"field":"i"}}},
{"data":{"name":"poly"},"transform":[{"filter":"datum.p=='b10' && datum.r=='p'"}],"mark":{"type":"line","fill":"#ffc0c0","stroke":"#000","strokeWidth":0.8},"encoding":{"detail":{"field":"g"},"order":{"field":"i"}}},
{"data":{"name":"poly"},"transform":[{"filter":"datum.p=='b10' && datum.r=='r'"}],"mark":{"type":"line","fill":"#ff0000","stroke":"#000","strokeWidth":0.8},"encoding":{"detail":{"field":"g"},"order":{"field":"i"}}},
{"data":{"name":"poly"},"transform":[{"filter":"datum.p=='b10' && datum.r=='g'"}],"mark":{"type":"line","fill":"#00c800","stroke":"#000","strokeWidth":0.6},"encoding":{"detail":{"field":"g"},"order":{"field":"i"}}},
{"data":{"name":"poly"},"transform":[{"filter":"datum.p=='b10' && datum.r=='b'"}],"mark":{"type":"line","fill":"#87cefa","stroke":"#000","strokeWidth":0.6},"encoding":{"detail":{"field":"g"},"order":{"field":"i"}}},
{"data":{"name":"arr"},"transform":[{"filter":"datum.p=='b10'"}],"mark":{"type":"rule","stroke":"#000","strokeWidth":1},"encoding":{"x2":{"field":"x2"},"y2":{"field":"y2"}}},
{"data":{"name":"arr"},"transform":[{"filter":"datum.p=='b10'"}],"mark":{"type":"point","shape":"M0,0L-0.32,1L0.32,1Z","filled":true,"color":"#000","size":200,"opacity":1},"encoding":{"angle":{"field":"a","type":"quantitative","scale":null}}},
{"data":{"name":"lab"},"transform":[{"filter":"datum.p=='b10'"}],"mark":{"type":"text","fontSize":22,"baseline":"middle","color":"#000"},"encoding":{"text":{"field":"t"}}}
]},
{"data":{"name":"star"},"mark":{"type":"point","shape":"M-1,0H1M0,-1V1M-0.7,-0.7L0.7,0.7M-0.7,0.7L0.7,-0.7","size":170,"stroke":"#000","strokeWidth":1,"filled":false,"opacity":1},
"encoding":{
"x":{"field":"x","type":"quantitative","scale":{"domain":[0,2.5],"nice":false,"zero":false},"axis":{"orient":"top","values":[0,0.5,1,1.5,2,2.5],"labels":false,"title":"𝑁 = 10","titleFont":"Liberation Serif, DejaVu Serif","titleX":223,"titleY":-13,"titleBaseline":"alphabetic","titleAlign":"center","titleFontSize":27}},
"y":{"field":"y","type":"quantitative","scale":{"domain":[0,0.5],"nice":false,"zero":false},"axis":{"orient":"right","values":[0,0.1,0.2,0.3,0.4,0.5],"labels":false,"title":"(b10)","titleX":-588,"titleY":-13,"titleAngle":0,"titleAlign":"left","titleBaseline":"alphabetic","titleFontSize":27}}}}
],
"resolve":{"axis":{"x":"independent","y":"independent"}}}
]}
],
"config":{
"font":"Liberation Serif",
"view":{"fill":"#87cefa","stroke":null},
"axis":{"grid":false,"domain":true,"domainColor":"#000","domainWidth":1,"tickColor":"#000","tickWidth":1,"tickSize":-6,"labelPadding":15,"labelColor":"#000","titleColor":"#000","labelFont":"Liberation Serif","titleFont":"Liberation Serif","labelFontSize":22,"titleFontSize":23.5,"titleFontWeight":"normal","labelFlush":false,"labelOverlap":false,"labelBound":false,"zindex":1},
"text":{"font":"Liberation Serif","fontSize":22}
}
}
